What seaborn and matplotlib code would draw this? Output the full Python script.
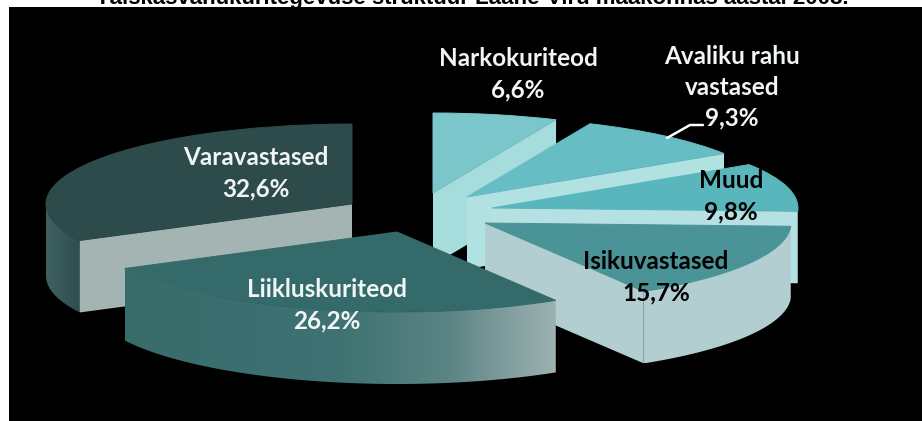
import numpy as np
import matplotlib
matplotlib.use("Agg")
import matplotlib.pyplot as plt
from matplotlib.patches import Polygon
import seaborn as sns

# ---- data ----
categories = ["Varavastased", "Liikluskuriteod", "Isikuvastased", "Muud",
              "Avaliku rahu\nvastased", "Narkokuriteod"]
shares = [32.6, 26.2, 15.7, 9.8, 9.3, 6.6]
share_labels = ["32,6%", "26,2%", "15,7%", "9,8%", "9,3%", "6,6%"]
title = "Täiskasvanukuritegevuse struktuur Lääne-Viru maakonnas aastal 2008."

# ---- styling ----
top_colors = ["#2e4b4b", "#356a6b", "#4a9498", "#58b6bc", "#66bdc4", "#7ac6ca"]
wall_colors = ["#a4b4b3", "#356a6b", "#b2ced1", "#b6e1e2", "#b2e1e2", "#a6dcdc"]
side_ramps = [["#3e6161", "#2f4e4e"], ["#396b6b", "#3b6e6e", "#3f7272", "#5b8484", "#9fb2b2"],
              ["#b2ced1", "#b2ced1"], ["#b6e1e2"] * 2, ["#b2e1e2"] * 2, ["#a6dcdc"] * 2]
text_colors = ["#f2f5f5", "#f2f5f5", "black", "black", "#f2f5f5", "#f2f5f5"]
text_x = [256, 327, 656, 731, 732, 518]
text_y = [173, 305, 277, 196, 87, 74]
apex_px = [(352, 204), (397, 232), (485, 223), (492, 208), (467, 197), (433, 193)]
draw_order = [5, 4, 3, 0, 2, 1]
W, H = 922, 421
PANEL_L, PANEL_T = 9, 7
RADIUS = 306
SQUASH = RADIUS / 80
DEPTH = 72 * SQUASH

sns.set_theme(style="white", rc={"figure.facecolor": "white"})
plt.rcParams["font.family"] = ["Lato", "DejaVu Sans"]

fig = plt.figure(figsize=(W / 100, H / 100), dpi=100)
ax = fig.add_axes([PANEL_L / W, 0, (W - PANEL_L) / W, (H - PANEL_T) / H])


def to_y(py):
    return (H - py) * SQUASH


wedges, _ = ax.pie(shares, colors=top_colors, startangle=90, radius=RADIUS,
                   wedgeprops={"linewidth": 0.7})
ax.set_frame_on(True)
ax.set_facecolor("black")
for s in ax.spines.values():
    s.set_visible(False)

for rank, i in enumerate(draw_order):
    w = wedges[i]
    cx, cy = apex_px[i][0], to_y(apex_px[i][1])
    w.set_center((cx, cy))
    w.set_edgecolor(top_colors[i])
    base = 10 + rank * 3
    w.set_zorder(base + 2)

    # outer rim (only the part turned to the viewer), shaded left to right
    th = np.linspace(w.theta1, w.theta2, 400)
    th = th[np.sin(np.radians(th)) < 0]
    if len(th) > 1:
        xs = cx + RADIUS * np.cos(np.radians(th))
        ys = cy + RADIUS * np.sin(np.radians(th))
        rim = np.column_stack([np.r_[xs, xs[::-1]], np.r_[ys, ys[::-1] - DEPTH]])
        patch = Polygon(rim, closed=True, transform=ax.transData, fc="none", lw=0)
        ax.add_patch(patch)
        ramp = np.array(sns.blend_palette(side_ramps[i], 256))[None, :, :3]
        im = ax.imshow(ramp, extent=(xs.min(), xs.max(), (ys - DEPTH).min(), ys.max()),
                       aspect="auto", zorder=base, interpolation="bilinear")
        im.set_clip_path(patch)

    # cut walls turned to the viewer
    for ang, normal in ((w.theta1, w.theta1 - 90), (w.theta2, w.theta2 + 90)):
        if np.sin(np.radians(normal)) < 0:
            ex = cx + RADIUS * np.cos(np.radians(ang))
            ey = cy + RADIUS * np.sin(np.radians(ang))
            ax.fill([cx, ex, ex, cx], [cy, ey, ey - DEPTH, cy - DEPTH],
                    color=wall_colors[i], lw=0, zorder=base + 1)

ax.set_aspect("auto")
ax.set_xlim(PANEL_L, W)
ax.set_ylim(0, to_y(PANEL_T))

# labels
for name, share, x, y, c in zip(categories, share_labels, text_x, text_y, text_colors):
    ax.text(x, to_y(y), f"{name}\n{share}", color=c, ha="center", va="center",
            fontsize=17.5, fontweight="bold", linespacing=1.42, zorder=50)

# leader of the 9,3% label
ax.plot([667, 690, 703], [to_y(138), to_y(125), to_y(125)], color="white", lw=1.8, zorder=50)

fig.text(472 / W, 1 - 4 / H, title, ha="center", va="baseline", color="black",
         fontsize=16, fontweight="bold", family="Liberation Sans")

fig.savefig("out.png", dpi=100, facecolor="white")
